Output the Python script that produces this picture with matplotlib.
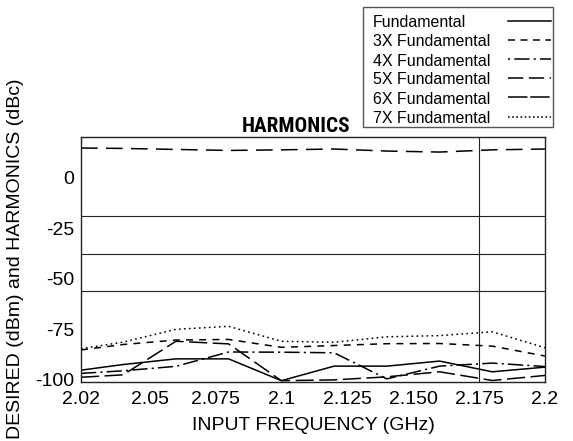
import matplotlib
matplotlib.use('Agg')
import matplotlib.pyplot as plt
from matplotlib.lines import Line2D
from matplotlib.patches import Rectangle
from matplotlib import font_manager
from matplotlib.transforms import Affine2D
import numpy as np

plt.rcParams['font.family'] = ['Liberation Sans', 'DejaVu Sans']
plt.rcParams['lines.scale_dashes'] = False

# ---- data ----
freq = [2.02, 2.04, 2.06, 2.08, 2.10, 2.12, 2.14, 2.16, 2.18, 2.20]
fundamental = [14.7, 14.5, 14.0, 13.5, 13.8, 14.2, 13.2, 12.7, 13.8, 14.2]
h3 = [-85.2, -82.5, -80.3, -80.0, -83.9, -83.0, -82.1, -82.0, -83.3, -88.2]
h4 = [-96.8, -95.5, -93.3, -86.2, -86.3, -86.6, -99.5, -93.2, -91.7, -93.4]
h5 = [-98.7, -97.5, -80.9, -82.2, -100.4, -100.0, -98.5, -96.0, -100.3, -97.8]
h6 = [-95.2, -92.4, -89.6, -89.6, -100.4, -93.2, -93.2, -90.7, -96.0, -93.7]
h7 = [-84.6, -81.3, -75.0, -73.5, -80.9, -81.4, -78.7, -78.1, -76.2, -84.1]

series_names = ['Fundamental', '3X Fundamental', '4X Fundamental',
                '5X Fundamental', '6X Fundamental', '7X Fundamental']

xtick_vals = [2.02, 2.05, 2.075, 2.1, 2.125, 2.15, 2.175, 2.2]
xtick_labels = ['2.02', '2.05', '2.075', '2.1', '2.125', '2.150', '2.175', '2.2']
ytick_vals = [0, -25, -50, -75, -100]
ytick_labels = ['0', '-25', '-50', '-75', '-100']
grid_levels = [0, -18.75, -37.5, -56.25, -75]
marker_freq = 2.175

# ---- figure ----
W, H = 573, 441
fig = plt.figure(figsize=(W / 100, H / 100), dpi=100)
ax = fig.add_axes([81 / W, 1 - 381.7 / H, 464 / W, 245 / H])
# pixel transform (origin top-left) for figure-level decorations
T = Affine2D().scale(1 / W, -1 / H).translate(0, 1) + fig.transFigure


def fwd(v):
    v = np.asarray(v, float)
    return np.where(v < 2.04, (v - 2.02) * 40.0, 0.8 + (v - 2.04) * 50.0)


def inv(u):
    u = np.asarray(u, float)
    return np.where(u < 0.8, 2.02 + u / 40.0, 2.04 + (u - 0.8) / 50.0)


ax.set_xscale('function', functions=(fwd, inv))

lw = 1.1
ax.plot(freq, fundamental, color='black', lw=lw, linestyle=(0, (12, 6)))
ax.plot(freq, h3, color='black', lw=lw, linestyle=(0, (5, 4.5)))
ax.plot(freq, h4, color='black', lw=lw, linestyle=(0, (11, 3, 1.5, 3)))
ax.plot(freq, h5, color='black', lw=lw, linestyle=(0, (13, 4)))
ax.plot(freq, h6, color='black', lw=lw, linestyle='-')
ax.plot(freq, h7, color='black', lw=lw, linestyle=(0, (1.2, 2.4)))

ax.set_xlim(2.02, 2.2)
ax.set_ylim(-100.9, 20.3)

ax.set_xticks(xtick_vals)
ax.set_xticklabels(xtick_labels)
ax.set_yticks(ytick_vals)
ax.set_yticklabels(ytick_labels)
ax.set_yticks(grid_levels, minor=True)
ax.xaxis.set_minor_locator(matplotlib.ticker.NullLocator())
ax.grid(False)
ax.grid(True, axis='y', which='minor', color='#222222', lw=0.8)
ax.axvline(marker_freq, color='#222222', lw=0.8)
ax.tick_params(axis='x', which='both', length=0, labelsize=14, pad=7)
ax.tick_params(axis='y', which='both', length=0, labelsize=14, pad=5)

for s in ax.spines.values():
    s.set_linewidth(1.0)
    s.set_color('#222222')

ax.set_xlabel('INPUT FREQUENCY (GHz)', fontsize=14, labelpad=6)
ax.set_ylabel('DESIRED (dBm) and HARMONICS (dBc)', fontsize=14)
ax.yaxis.set_label_coords(-0.122, 0.5)

# ---- title in a condensed bold face if available ----
prefs = ['Liberation Sans Narrow', 'Roboto Condensed', 'Open Sans Condensed',
         'Noto Sans Condensed', 'DejaVu Sans Condensed', 'DejaVu Sans']
cands = []
for f in font_manager.fontManager.ttflist:
    cond = (f.stretch in ('condensed', 'semi-condensed', 'extra-condensed')
            or 'Narrow' in f.name or 'Condensed' in f.name)
    bold = f.weight in (600, 700, 800, 'bold', 'semibold', 'demibold')
    if cond and bold and f.style == 'normal':
        rank = prefs.index(f.name) if f.name in prefs else len(prefs)
        cands.append((rank, f.fname))
if cands:
    cands.sort()
    title_fp = font_manager.FontProperties(fname=cands[0][1], size=16)
else:
    title_fp = font_manager.FontProperties(family='Liberation Sans', weight='bold', size=16)
title = fig.text(296, 131.7, 'HARMONICS', fontproperties=title_fp,
                 ha='center', va='baseline', transform=T)
# shrink the title so its width matches the reference (~108 px)
renderer = fig.canvas.get_renderer()
wpx = title.get_window_extent(renderer).width
if wpx > 108:
    title_fp.set_size(16 * 108 / wpx)
    title.set_fontproperties(title_fp)

# ---- legend (text left, line sample right) ----
legend_styles = ['-', (0, (5, 4)), (0, (1.5, 3, 11, 3)), (0, (11, 4)),
                 (0, (14, 2)), (0, (1.2, 1.8))]
fig.add_artist(Rectangle((363, 7), 190, 120, transform=T, facecolor='white',
                         edgecolor='#555555', lw=1.0))
row_y = [22.5, 41.7, 61, 80, 99, 118.5]
for name, st, y in zip(series_names, legend_styles, row_y):
    fig.text(373, y, name, fontsize=11.5, ha='left', va='center', transform=T)
    fig.add_artist(Line2D([508, 551], [y - 2, y - 2], color='black', lw=lw,
                          linestyle=st, transform=T))

fig.savefig('out.png', dpi=100)
